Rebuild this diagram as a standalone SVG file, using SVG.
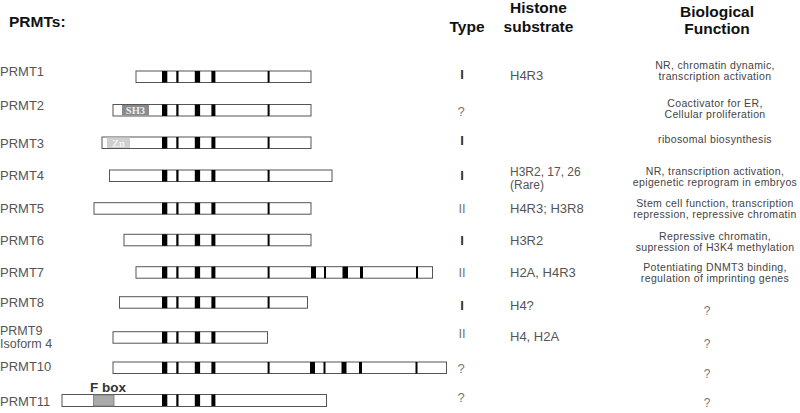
<svg xmlns="http://www.w3.org/2000/svg" xmlns:xlink="http://www.w3.org/1999/xlink" width="800" height="413" viewBox="0 0 800 413">
<style>
.bg{fill:#ffffff}
.hd{font-family:"Liberation Sans",Arial,sans-serif;font-weight:bold;font-size:15.5px;fill:#111}
.lb{font-family:"Liberation Sans",Arial,sans-serif;font-size:13px;fill:#555}
.ty1{font-family:"Liberation Sans",Arial,sans-serif;font-size:13px;font-weight:bold;fill:#333;text-anchor:middle}
.ty2{font-family:"Liberation Sans",Arial,sans-serif;font-size:13px;fill:#777;text-anchor:middle}
.sub{font-family:"Liberation Sans",Arial,sans-serif;font-size:13px;fill:#555}
.fn{font-family:"Liberation Sans",Arial,sans-serif;font-size:10.5px;letter-spacing:0.35px;fill:#444;text-anchor:middle}
.q{font-family:"Liberation Sans",Arial,sans-serif;font-size:12px;fill:#777;text-anchor:middle}
.bar{fill:#fff;stroke:#555;stroke-width:1}
.mk{fill:#000}
.dom{font-family:"Liberation Serif","Times New Roman",serif;font-weight:bold;font-size:10.5px;fill:#eee}
</style>
<defs>
<g id="m4">
<rect class="mk" x="162" y="0" width="5.3" height="11.5"/>
<rect class="mk" x="176.3" y="0" width="2.2" height="11.5"/>
<rect class="mk" x="194.8" y="0" width="5.3" height="11.5"/>
<rect class="mk" x="211.4" y="0" width="4" height="11.5"/>
</g>
<g id="m5">
<use xlink:href="#m4"/>
<rect class="mk" x="267.6" y="0" width="2" height="11.5"/>
</g>
</defs>
<rect class="bg" x="0" y="0" width="800" height="413"/>
<g id="headers">
<text class="hd" x="9" y="26.5">PRMTs:</text>
<text class="hd" x="449.5" y="32">Type</text>
<text class="hd" x="538.5" y="13" text-anchor="middle">Histone</text>
<text class="hd" x="538.5" y="32" text-anchor="middle">substrate</text>
<text class="hd" x="717" y="16.5" text-anchor="middle">Biological</text>
<text class="hd" x="717" y="34" text-anchor="middle">Function</text>
</g>
<g id="prmt1">
<text class="lb" x="0" y="75.5">PRMT1</text>
<rect class="bar" x="136" y="71" width="175" height="11.5"/>
<use xlink:href="#m5" y="71"/>
<text class="ty1" x="462" y="79">I</text>
<text class="sub" x="510" y="80">H4R3</text>
<text class="fn" x="715" y="69">NR, chromatin dynamic,</text>
<text class="fn" x="715" y="80">transcription activation</text>
</g>
<g id="prmt2">
<text class="lb" x="0" y="109.5">PRMT2</text>
<rect class="bar" x="113" y="104.5" width="198" height="11.5"/>
<rect x="122" y="105" width="27" height="10.5" fill="#8a8a8a"/>
<text class="dom" x="135.5" y="114" text-anchor="middle">SH3</text>
<use xlink:href="#m5" y="104.5"/>
<text class="ty2" x="461" y="116">?</text>
<text class="fn" x="715" y="107">Coactivator for ER,</text>
<text class="fn" x="715" y="118">Cellular proliferation</text>
</g>
<g id="prmt3">
<text class="lb" x="0" y="148">PRMT3</text>
<rect class="bar" x="102" y="137" width="209" height="11.5"/>
<rect x="107" y="137.5" width="23" height="10.5" fill="#cfcfcf"/>
<text class="dom" x="118.5" y="146.5" text-anchor="middle" style="fill:#f2f2f2">Zn</text>
<use xlink:href="#m5" y="137"/>
<text class="ty1" x="462" y="144.5">I</text>
<text class="fn" x="715" y="143">ribosomal biosynthesis</text>
</g>
<g id="prmt4">
<text class="lb" x="0" y="180">PRMT4</text>
<rect class="bar" x="109.5" y="170" width="222.5" height="11.5"/>
<use xlink:href="#m5" y="170"/>
<text class="ty1" x="462" y="180">I</text>
<text class="sub" x="510" y="175.5" style="font-size:12px">H3R2, 17, 26</text>
<text class="sub" x="510" y="188.5" style="font-size:12px">(Rare)</text>
<text class="fn" x="715" y="174.5">NR, transcription activation,</text>
<text class="fn" x="715" y="185.5">epigenetic reprogram in embryos</text>
</g>
<g id="prmt5">
<text class="lb" x="0" y="212.5">PRMT5</text>
<rect class="bar" x="94" y="202.7" width="217" height="11.5"/>
<use xlink:href="#m5" y="202.7"/>
<text class="ty2" x="462" y="212.5">II</text>
<text class="sub" x="510" y="213">H4R3; H3R8</text>
<text class="fn" x="715" y="207">Stem cell function, transcription</text>
<text class="fn" x="715" y="218">repression, repressive chromatin</text>
</g>
<g id="prmt6">
<text class="lb" x="0" y="245">PRMT6</text>
<rect class="bar" x="124" y="234.3" width="187" height="11.5"/>
<use xlink:href="#m5" y="234.3"/>
<text class="ty1" x="462" y="245">I</text>
<text class="sub" x="510" y="245">H3R2</text>
<text class="fn" x="715" y="239.5">Repressive chromatin,</text>
<text class="fn" x="715" y="250.5">supression of H3K4 methylation</text>
</g>
<g id="prmt7">
<text class="lb" x="0" y="277">PRMT7</text>
<rect class="bar" x="136" y="266.7" width="296.5" height="11.5"/>
<use xlink:href="#m5" y="266.7"/>
<g transform="translate(0,266.7)">
<rect class="mk" x="311" y="0" width="5" height="11.5"/>
<rect class="mk" x="324" y="0" width="2" height="11.5"/>
<rect class="mk" x="342.5" y="0" width="5.5" height="11.5"/>
<rect class="mk" x="360" y="0" width="3" height="11.5"/>
<rect class="mk" x="416" y="0" width="2" height="11.5"/>
</g>
<text class="ty2" x="462" y="277">II</text>
<text class="sub" x="510" y="277">H2A, H4R3</text>
<text class="fn" x="715" y="271">Potentiating DNMT3 binding,</text>
<text class="fn" x="715" y="282">regulation of imprinting genes</text>
</g>
<g id="prmt8">
<text class="lb" x="0" y="307">PRMT8</text>
<rect class="bar" x="119.5" y="296.7" width="188" height="11.5"/>
<use xlink:href="#m5" y="296.7"/>
<text class="ty1" x="462" y="310">I</text>
<text class="sub" x="510" y="309.5">H4?</text>
<text class="q" x="707" y="315">?</text>
</g>
<g id="prmt9">
<text class="lb" x="0" y="334.5" style="font-size:12.5px">PRMT9</text>
<text class="lb" x="0" y="347.5" style="font-size:12.5px">Isoform 4</text>
<rect class="bar" x="113" y="331.7" width="154.5" height="11.5"/>
<use xlink:href="#m4" y="331.7"/>
<text class="ty2" x="462" y="338">II</text>
<text class="sub" x="510" y="341">H4, H2A</text>
<text class="q" x="707" y="348">?</text>
</g>
<g id="prmt10">
<text class="lb" x="0" y="371">PRMT10</text>
<rect class="bar" x="113" y="362" width="333.5" height="11.5"/>
<use xlink:href="#m5" y="362"/>
<g transform="translate(0,362)">
<rect class="mk" x="310" y="0" width="5" height="11.5"/>
<rect class="mk" x="323.5" y="0" width="2" height="11.5"/>
<rect class="mk" x="341.5" y="0" width="5" height="11.5"/>
<rect class="mk" x="359" y="0" width="3" height="11.5"/>
<rect class="mk" x="415.5" y="0" width="2" height="11.5"/>
</g>
<text class="ty2" x="461" y="372.5">?</text>
<text class="q" x="707" y="378">?</text>
</g>
<g id="prmt11">
<text class="lb" x="0" y="406">PRMT11</text>
<text class="hd" x="90" y="392" style="font-size:13.5px;fill:#333">F box</text>
<rect class="bar" x="62" y="394.5" width="264.5" height="12"/>
<rect x="93.5" y="395" width="20.5" height="11" fill="#aaa" stroke="#777" stroke-width="0.8"/>
<g transform="translate(0,394.5)"><use xlink:href="#m4"/></g>
<text class="ty2" x="461" y="402">?</text>
<text class="q" x="707" y="407">?</text>
</g>
</svg>
